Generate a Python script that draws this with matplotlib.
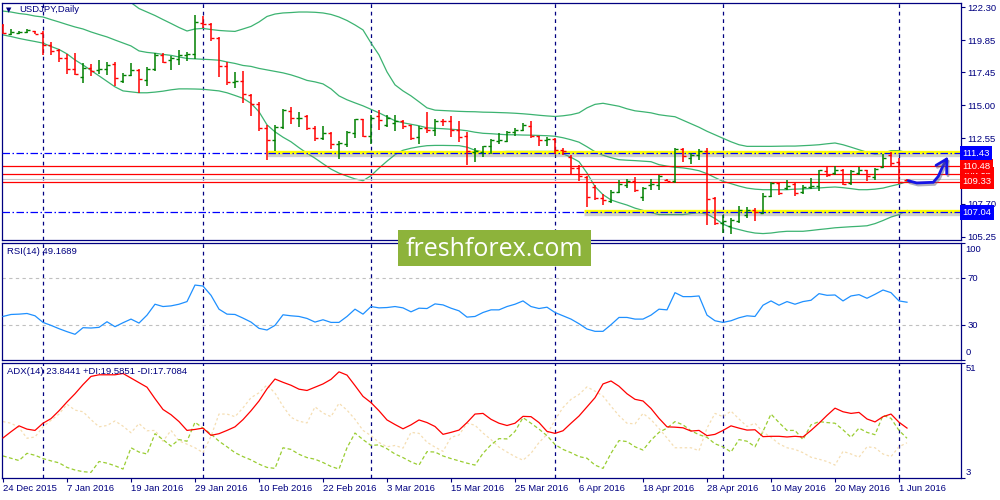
import matplotlib
matplotlib.use('Agg')
import matplotlib.pyplot as plt
import matplotlib.patheffects as pe
from matplotlib.patches import Rectangle
import numpy as np
import pandas as pd

# ---------------- data ----------------
open_ = [120.97,120.30,120.37,120.41,120.52,120.37,119.51,119.11,118.50,117.68,
         117.13,117.76,117.63,117.68,118.05,116.84,117.24,117.63,116.89,117.73,
         118.74,118.37,118.42,118.74,118.79,121.12,121.04,119.98,117.93,116.76,
         116.84,115.78,115.09,113.31,112.44,113.38,114.61,114.05,114.17,113.31,
         112.57,112.94,112.12,112.15,112.94,113.98,112.69,114.22,113.55,113.72,
         113.87,113.50,112.64,113.31,113.18,113.87,113.80,113.18,112.69,111.50,
         111.50,112.00,112.35,112.32,112.98,113.13,113.43,112.69,112.39,112.49,
         111.70,111.16,110.34,109.70,108.96,108.14,107.87,108.54,109.11,109.35,
         108.19,109.11,109.11,109.48,109.35,111.75,111.09,111.33,111.57,108.12,
         106.27,106.01,106.39,106.88,107.25,107.01,108.24,109.26,108.86,109.18,
         108.54,108.94,109.03,110.09,109.97,110.17,109.23,109.97,110.17,109.68,
         110.42,111.33,110.76,109.48]
high = [121.04,120.65,120.54,120.65,120.54,120.50,119.71,119.17,118.82,118.91,
        118.13,118.08,118.37,118.25,118.25,117.43,118.13,117.68,117.83,118.87,
        118.87,118.67,119.11,118.99,121.71,121.63,121.09,120.05,118.25,117.50,
        117.56,115.85,115.21,113.55,113.55,114.72,114.87,114.47,114.30,113.43,
        113.43,112.98,112.32,113.06,114.00,114.00,114.30,114.67,114.30,114.30,
        113.92,113.55,113.43,114.47,113.98,113.98,114.17,113.87,112.98,111.83,
        112.00,112.49,112.94,113.06,113.31,113.72,113.80,112.74,112.64,112.57,
        111.83,111.33,110.59,109.77,109.11,108.44,108.74,109.42,109.53,109.68,
        108.94,109.53,109.85,109.55,111.83,111.83,111.46,111.75,111.83,108.19,
        106.88,106.64,107.50,107.45,107.38,108.49,109.28,109.28,109.42,109.23,
        109.11,109.60,110.22,110.42,110.51,110.27,110.22,110.42,110.22,110.34,
        111.38,111.55,111.11,109.53]
low = [120.30,120.20,120.30,120.35,120.30,118.74,118.77,118.25,117.33,117.26,
       116.69,117.19,117.33,117.26,116.44,116.69,117.19,115.95,116.44,117.58,
       118.17,117.63,118.00,118.32,118.42,120.71,119.80,117.13,116.52,116.27,
       115.16,114.22,113.06,110.96,111.57,113.26,113.63,113.38,113.18,112.32,
       112.39,111.75,111.01,111.90,112.57,112.64,112.15,113.18,113.38,113.06,
       113.23,112.39,112.15,112.94,112.69,113.43,112.64,112.24,110.59,110.76,
       111.16,111.40,112.15,112.24,112.69,113.06,112.57,112.00,112.00,111.40,
       111.33,109.85,109.35,107.47,107.99,107.62,107.75,108.49,108.86,108.54,
       107.87,108.74,108.74,109.35,109.23,110.76,110.66,110.96,106.14,106.14,
       105.53,105.47,106.22,106.64,106.39,106.96,108.19,108.37,108.74,108.29,
       108.44,108.79,108.61,109.68,109.85,109.11,109.11,109.85,109.35,109.48,
       110.34,110.42,109.18,109.35]
close = [120.37,120.45,120.45,120.56,120.30,119.51,119.02,118.50,117.68,117.33,
         117.76,117.58,117.68,118.00,117.02,117.26,117.63,116.94,117.68,118.74,
         118.25,118.50,118.74,118.79,121.21,121.04,119.98,117.93,116.76,116.82,
         115.83,115.09,113.31,112.44,113.38,114.67,114.05,114.09,113.31,112.57,
         112.94,112.12,112.20,112.98,113.98,112.69,114.05,113.92,114.09,113.80,
         113.48,112.57,113.31,113.18,113.80,113.80,113.18,112.64,111.57,111.57,
         111.94,112.44,112.39,112.98,113.18,113.55,112.74,112.39,112.49,111.70,
         111.57,110.34,109.72,108.22,108.12,107.99,108.54,109.18,109.35,108.74,
         108.86,109.18,109.77,109.40,111.75,111.20,111.33,111.57,108.05,106.22,
         106.39,106.51,107.25,107.20,107.05,108.29,109.23,108.49,109.03,108.49,
         108.94,109.03,110.17,109.85,110.17,109.18,110.09,110.22,109.77,110.27,
         111.09,110.71,109.28,109.43]

bb_upper = [124.2,124.2,124.1,124.1,124.0,124.0,123.9,123.8,123.7,123.6,
            123.5,123.4,123.3,123.1,122.95,122.8,122.63,122.19,121.93,121.67,
            121.37,121.08,120.78,120.52,120.67,120.71,120.63,120.56,120.52,120.49,
            120.67,120.86,121.19,121.60,121.78,121.86,121.89,121.93,121.93,121.91,
            121.86,121.75,121.56,121.30,120.97,120.60,119.63,118.74,117.48,116.52,
            116.07,115.70,115.26,114.81,114.64,114.61,114.58,114.55,114.53,114.52,
            114.49,114.48,114.46,114.44,114.41,114.37,114.32,114.26,114.21,114.17,
            114.22,114.30,114.44,114.81,115.07,115.15,115.04,114.93,114.74,114.59,
            114.52,114.44,114.30,114.22,114.15,113.89,113.63,113.37,113.07,112.81,
            112.55,112.29,112.07,111.95,111.95,111.95,111.95,111.96,111.97,111.97,
            112.00,112.03,112.07,112.14,112.20,112.07,111.89,111.70,111.51,111.37,
            111.44,111.63,111.63,111.48]
bb_middle = [122.00,121.93,121.82,121.75,121.63,121.56,121.37,121.19,121.00,120.82,
             120.67,120.45,120.26,120.08,119.85,119.63,119.41,119.04,118.93,118.87,
             118.78,118.71,118.59,118.48,118.45,118.42,118.39,118.35,118.22,118.11,
             117.96,117.89,117.74,117.63,117.52,117.41,117.26,117.07,116.85,116.74,
             116.59,116.22,115.70,115.41,115.18,114.96,114.70,114.44,114.15,113.85,
             113.70,113.59,113.48,113.33,113.29,113.26,113.22,113.18,113.11,113.00,
             112.92,112.89,112.85,112.81,112.81,112.79,112.78,112.76,112.74,112.70,
             112.59,112.44,112.26,111.92,111.55,111.29,111.11,110.96,110.92,110.89,
             110.85,110.81,110.59,110.48,110.40,110.35,110.26,110.14,109.92,109.63,
             109.35,109.18,109.00,108.85,108.77,108.73,108.73,108.73,108.73,108.77,
             108.79,108.82,108.86,108.90,108.93,108.88,108.81,108.73,108.73,108.77,
             108.85,109.00,109.14,109.33]
bb_lower = [120.23,120.11,119.97,119.85,119.74,119.62,119.37,119.15,118.82,118.37,
            118.00,117.59,117.19,116.78,116.37,116.07,116.00,115.93,115.93,115.98,
            116.05,116.15,116.22,116.22,116.21,116.19,116.13,116.07,115.93,115.73,
            115.52,115.15,114.52,113.55,113.03,112.63,112.29,111.85,111.44,111.07,
            110.66,110.26,109.96,109.74,109.53,109.40,109.77,110.33,110.85,111.33,
            111.66,111.81,111.92,112.00,112.02,112.02,112.01,112.00,111.89,111.66,
            111.53,111.54,111.55,111.57,111.57,111.57,111.57,111.57,111.57,111.57,
            111.40,111.14,110.81,109.97,108.96,108.36,107.97,107.77,107.59,107.36,
            107.19,107.03,106.88,106.88,106.88,106.88,106.96,107.03,106.92,106.59,
            106.18,105.92,105.77,105.62,105.51,105.47,105.51,105.59,105.64,105.64,
            105.64,105.70,105.77,105.83,105.90,105.94,105.98,106.01,106.05,106.21,
            106.44,106.70,106.88,107.18]

rsi = [37.06,38.75,39.03,39.59,37.62,32.00,29.47,26.65,24.12,21.87,
       27.50,27.22,27.78,32.56,28.34,31.71,34.81,31.43,38.19,47.47,
       45.50,46.06,47.47,49.72,63.78,62.94,55.06,43.25,39.03,38.75,
       35.65,32.28,26.93,25.52,29.47,38.47,37.62,37.06,35.37,32.28,
       34.25,32.00,32.00,37.06,43.25,39.03,45.50,44.37,44.65,45.50,
       44.37,41.00,44.09,43.81,47.75,46.90,44.09,41.84,36.50,37.06,
       40.43,42.68,42.68,45.50,47.47,50.28,45.50,43.81,44.94,40.43,
       37.62,34.81,30.87,26.37,24.40,24.40,30.03,36.22,36.22,34.81,
       34.81,38.19,43.25,42.68,57.31,53.94,53.94,54.50,38.19,33.40,
       32.00,33.40,35.93,37.62,37.06,46.62,50.28,46.62,49.72,47.47,
       49.72,50.84,56.47,55.06,55.34,50.28,54.50,55.63,52.53,55.91,
       59.56,57.31,50.28,49.17]

adx = [19.72,22.31,24.77,23.40,22.86,25.86,27.78,31.06,34.74,38.16,
       41.98,45.40,46.08,46.08,46.08,46.63,44.72,42.80,40.89,36.11,
       31.60,29.42,26.55,22.86,23.27,23.82,20.81,21.49,22.86,24.36,
       27.37,31.06,35.15,40.21,44.31,42.94,41.71,40.07,39.53,40.89,
       42.26,44.17,47.31,45.95,41.57,37.07,34.47,31.06,27.23,25.32,
       23.54,25.18,27.23,26.14,24.50,21.22,22.04,23.00,26.14,29.69,
       29.96,27.50,25.86,24.91,25.86,28.73,28.60,26.14,22.45,21.63,
       22.72,25.86,28.87,32.69,36.52,42.26,43.49,41.30,38.16,35.84,
       35.15,32.01,27.91,24.36,24.22,23.95,22.59,22.86,20.67,21.22,
       22.86,24.77,23.82,23.00,23.13,20.26,20.40,20.40,20.13,20.40,
       20.13,22.86,25.86,29.14,32.15,30.65,29.96,30.37,27.64,26.41,
       28.60,29.69,26.27,23.84]
plus_di = [12.20,11.25,10.29,13.30,12.48,11.11,10.15,9.33,7.42,6.33,
           5.64,5.37,9.88,9.20,8.10,6.74,15.62,13.84,13.02,21.49,
           19.03,16.30,19.03,18.35,26.27,23.82,21.36,18.35,16.03,13.57,
           11.93,10.56,8.79,7.42,7.01,15.62,14.93,12.89,11.52,10.84,
           9.47,7.83,6.74,15.62,21.77,19.03,16.57,16.85,15.21,13.02,
           11.52,9.74,8.38,13.98,13.84,12.20,11.11,10.15,9.20,8.38,
           13.30,16.85,19.44,19.31,22.45,28.19,25.86,23.40,20.67,16.98,
           14.93,13.57,11.93,11.25,8.38,7.01,13.30,18.62,18.21,16.03,
           14.66,18.76,22.04,23.82,26.55,25.18,22.72,21.08,19.99,17.26,
           16.03,13.84,19.03,18.35,16.03,22.45,29.69,26.14,22.86,22.86,
           19.03,25.18,26.55,26.14,25.86,23.13,19.99,23.82,22.04,21.08,
           29.14,27.91,22.86,19.59]
minus_di = [26.55,25.86,24.09,19.58,20.13,24.36,27.09,29.69,33.79,31.33,
            30.65,27.37,24.36,24.91,26.82,24.63,21.90,25.73,22.72,22.86,
            18.35,22.86,18.49,17.12,15.62,13.57,20.40,29.69,29.69,28.60,
            32.28,36.52,38.57,41.85,38.43,32.97,28.32,26.68,26.00,32.69,
            30.10,28.60,34.20,31.33,27.50,22.86,20.67,17.80,16.03,16.57,
            15.48,22.04,21.63,17.94,15.89,14.12,19.99,20.95,25.86,25.04,
            21.77,19.03,15.89,13.84,11.93,10.43,13.30,17.80,21.22,27.23,
            32.42,35.84,37.89,41.03,39.25,37.20,32.97,29.01,25.86,25.59,
            29.96,27.37,23.68,19.72,15.62,15.62,15.62,14.39,23.82,29.96,
            28.60,30.92,27.64,24.50,25.86,22.18,19.99,17.26,15.62,14.93,
            13.57,11.66,10.84,9.88,8.38,14.12,13.02,11.66,16.03,15.62,
            13.02,11.93,16.03,17.71]

price_ticks = [122.30, 119.85, 117.45, 115.00, 112.55, 107.70, 105.25]
date_label_days = ['2015-12-24', '2016-01-07', '2016-01-19', '2016-01-29', '2016-02-10',
                   '2016-02-22', '2016-03-03', '2016-03-15', '2016-03-25', '2016-04-06',
                   '2016-04-18', '2016-04-28', '2016-05-10', '2016-05-20', '2016-06-01']
date_labels = ['24 Dec 2015', '7 Jan 2016', '19 Jan 2016', '29 Jan 2016', '10 Feb 2016',
               '22 Feb 2016', '3 Mar 2016', '15 Mar 2016', '25 Mar 2016', '6 Apr 2016',
               '18 Apr 2016', '28 Apr 2016', '10 May 2016', '20 May 2016', '1 Jun 2016']
holidays = ['2015-12-25', '2016-01-01']

blue_levels = [111.43, 107.04]
red_levels = [110.48, 109.86, 109.33]
bid_level = 109.53
yellow_levels = [111.53, 107.14]
yellow_start = [32.96, 72.6]

# hand-drawn arrow annotation (bar index, price)
arrow_x = [113.16, 114.21, 116.29, 116.91, 117.46, 117.96]
arrow_y = [109.40, 109.23, 109.28, 109.72, 110.46, 111.01]
arrow_wing_x = [116.63, 117.96, 117.96]
arrow_wing_y = [110.54, 111.01, 109.92]

title_text = 'USDJPY,Daily'
rsi_text = 'RSI(14) 49.1689'
adx_text = 'ADX(14) 23.8441 +DI:19.5851 -DI:17.7084'
watermark = 'freshforex.com'

# ---------------- figure ----------------
plt.rcParams['font.family'] = ['Liberation Sans', 'DejaVu Sans']
NAVY = '#000080'
RED = '#FF0000'
GREEN = '#008000'
BAND = '#3CB371'

dates = pd.bdate_range('2015-12-24', '2016-06-02')
dates = dates[~dates.isin(pd.to_datetime(holidays))]
n = len(open_)
idx = np.arange(n)
o = np.array(open_); c = np.array(close); h = np.array(high); l = np.array(low)

months = dates.to_period('M')
separators = [i for i in range(1, len(dates)) if months[i] != months[i - 1]]
label_pos = [dates.get_loc(pd.Timestamp(d)) for d in date_label_days]

W, H = 1000, 500
fig = plt.figure(figsize=(10, 5), dpi=100)
fig.patch.set_facecolor('white')


def rect(x0, y0, x1, y1):
    return [x0 / W, 1 - y1 / H, (x1 - x0) / W, (y1 - y0) / H]


ax1 = fig.add_axes(rect(2, 3, 961, 239.5))
ax2 = fig.add_axes(rect(2, 242.5, 961, 360))
ax3 = fig.add_axes(rect(2, 363, 961, 478))
axes = [ax1, ax2, ax3]
XMIN, XMAX = -0.125, 119.75

for ax in axes:
    ax.set_xlim(XMIN, XMAX)
    for s in ax.spines.values():
        s.set_color(NAVY)
        s.set_linewidth(0.9)
    for s in separators:
        ax.axvline(s, color=NAVY, lw=0.9, ls=(0, (3, 3)), zorder=1)
    ax.yaxis.tick_right()
    ax.tick_params(axis='y', colors=NAVY, labelsize=6.8, length=3, width=0.8, pad=1.5)

# ---- price panel ----
ax1.set_ylim(105.03, 122.60)
ax1.tick_params(axis='x', bottom=False, labelbottom=False)
ax1.set_yticks(price_ticks)
ax1.set_yticklabels([f'{v:.2f}' for v in price_ticks])

ax1.plot(idx, bb_upper, color=BAND, lw=0.9, zorder=2)
ax1.plot(idx, bb_middle, color=BAND, lw=0.9, zorder=2)
ax1.plot(idx, bb_lower, color=BAND, lw=0.9, zorder=2)

for lv in red_levels:
    ax1.axhline(lv, color=RED, lw=0.9, zorder=2)
ax1.axhline(bid_level, color='#C8C8C8', lw=0.8, zorder=2)

shadow = [pe.SimpleLineShadow(offset=(0.5, -1.8), shadow_color='#7a7a7a', alpha=0.35),
          pe.Normal()]
for lv, st in zip(yellow_levels, yellow_start):
    ax1.plot([st, XMAX], [lv, lv], color='#FFFF00', lw=2.4, zorder=2.4,
             solid_capstyle='butt', path_effects=shadow)
for lv in blue_levels:
    ax1.axhline(lv, color='#0000FF', lw=0.9, ls=(0, (6, 2, 1.2, 2)), zorder=2.6)

colors = np.where(c >= o, GREEN, RED)
ax1.vlines(idx, l, h, colors=colors, lw=1.1, zorder=3)
ax1.hlines(o, idx - 0.38, idx, colors=colors, lw=1.0, zorder=3)
ax1.hlines(c, idx, idx + 0.38, colors=colors, lw=1.0, zorder=3)

arrow_fx = [pe.SimpleLineShadow(offset=(1, -1.5), shadow_color='#606080', alpha=0.5), pe.Normal()]
ax1.plot(arrow_x, arrow_y, color='#1414E6', lw=2.0, zorder=5,
         solid_capstyle='round', solid_joinstyle='round', path_effects=arrow_fx)
ax1.plot(arrow_wing_x, arrow_wing_y, color='#1414E6', lw=2.0, zorder=5,
         solid_capstyle='round', solid_joinstyle='round', path_effects=arrow_fx)

ytr = ax1.get_yaxis_transform()
lab_x = 1.0015
ax1.text(lab_x, red_levels[1], f'{red_levels[1]:.2f}', transform=ytr, ha='left', va='center',
         color='white', fontsize=6.8, clip_on=False, zorder=6,
         bbox=dict(boxstyle='square,pad=0.28', fc=RED, ec='none'))
for lv in (red_levels[0], red_levels[2]):
    ax1.text(lab_x, lv, f'{lv:.2f}', transform=ytr, ha='left', va='center',
             color='white', fontsize=6.8, clip_on=False, zorder=7,
             bbox=dict(boxstyle='square,pad=0.28', fc=RED, ec='none'))
for lv in blue_levels:
    ax1.text(lab_x, lv, f'{lv:.2f}', transform=ytr, ha='left', va='center',
             color='white', fontsize=6.8, clip_on=False, zorder=7,
             bbox=dict(boxstyle='square,pad=0.28', fc='#0000FF', ec='none'))

fig.text(0.006, 1 - 10 / H, '\u25BC', fontsize=5, color=NAVY, va='center', ha='left',
         family=['DejaVu Sans'])
fig.text(0.019, 1 - 10 / H, title_text, fontsize=6.8, color=NAVY, va='center', ha='left')

# ---- RSI panel ----
ax2.set_ylim(0, 100)
ax2.tick_params(axis='x', bottom=False, labelbottom=False)
ax2.set_yticks([0, 30, 70, 100])
ax2.set_yticklabels(['', '30', '70', ''])
ax2.axhline(70, color='#C0C0C0', lw=0.8, ls=(0, (3, 3)), zorder=1)
ax2.axhline(30, color='#C0C0C0', lw=0.8, ls=(0, (3, 3)), zorder=1)
ax2.plot(idx, rsi, color='#1E90FF', lw=0.9, zorder=3)
ytr2 = ax2.get_yaxis_transform()
ax2.text(1.0045, 94.0, '100', transform=ytr2, ha='left', va='center', fontsize=6.8,
         color=NAVY, clip_on=False)
ax2.text(1.0045, 6.0, '0', transform=ytr2, ha='left', va='center', fontsize=6.8,
         color=NAVY, clip_on=False)
ax2.text(0.005, 1 - 9 / 118, rsi_text, transform=ax2.transAxes, fontsize=6.8, color=NAVY,
         ha='left', va='center')

# ---- ADX panel ----
ax3.set_ylim(3, 51)
ax3.set_yticks([3, 51])
ax3.set_yticklabels(['', ''])
ax3.plot(idx, minus_di, color='#F5DEB3', lw=0.9, ls=(0, (2, 2)), zorder=2)
ax3.plot(idx, plus_di, color='#9ACD32', lw=0.9, ls=(0, (3, 2)), zorder=2)
ax3.plot(idx, adx, color=RED, lw=0.9, zorder=3)
ytr3 = ax3.get_yaxis_transform()
ax3.text(1.0045, 48.5, '51', transform=ytr3, ha='left', va='center', fontsize=6.8,
         color=NAVY, clip_on=False)
ax3.text(1.0045, 5.3, '3', transform=ytr3, ha='left', va='center', fontsize=6.8,
         color=NAVY, clip_on=False)
ax3.text(0.005, 1 - 9 / 115, adx_text, transform=ax3.transAxes, fontsize=6.8, color=NAVY,
         ha='left', va='center', zorder=5)
ax3.set_xticks(label_pos, labels=date_labels, ha='left')
ax3.tick_params(axis='x', colors=NAVY, labelsize=6.8, length=3, width=0.8, pad=1.5)

# ---- watermark ----
fig.add_artist(Rectangle((398 / W, 1 - 266 / H), 193 / W, 36 / H, transform=fig.transFigure,
                         facecolor='#8DB33B', edgecolor='none', zorder=10))
fig.text(494.5 / W, 1 - 256.5 / H, watermark, fontsize=18, color='white', ha='center',
         va='baseline', family=['Open Sans', 'DejaVu Sans'], zorder=11)

fig.savefig('out.png', dpi=100, facecolor='white')
